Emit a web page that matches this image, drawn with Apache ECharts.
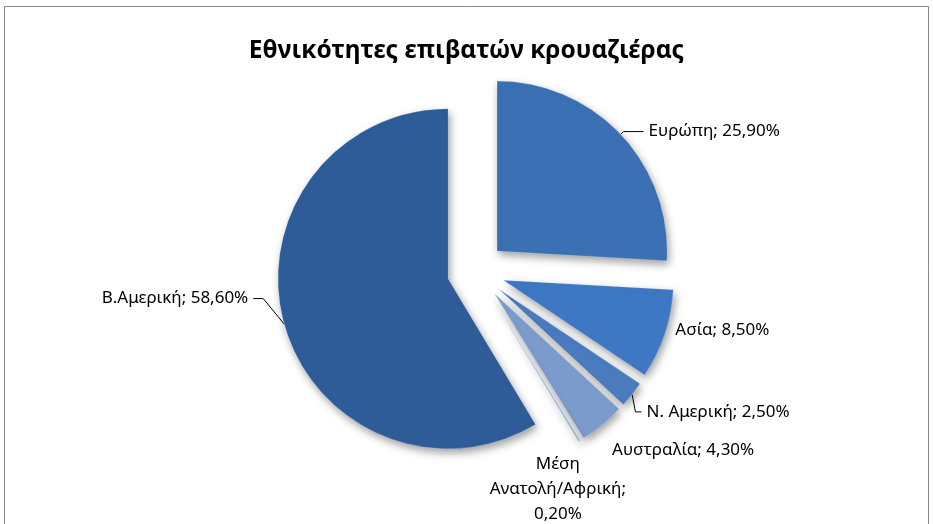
<!DOCTYPE html>
<html>
<head>
<meta charset="utf-8">
<script src="https://cdn.jsdelivr.net/npm/echarts@6/dist/echarts.min.js"></script>
<style>
  html, body { margin: 0; padding: 0; background: #ffffff; }
  #chart { width: 933px; height: 524px; }
</style>
</head>
<body>
<div id="chart"></div>
<script>
// Cruise passenger nationalities (share of passengers, %)
const regions = ['Ευρώπη', 'Ασία', 'Ν. Αμερική', 'Αυστραλία', 'Μέση Ανατολή/Αφρική', 'Β.Αμερική'];
const shares = [25.9, 8.5, 2.5, 4.3, 0.2, 58.6];
const sliceColors = ['#3b70b5', '#3e77c4', '#4b7bbf', '#7b9bcc', '#a3b7da', '#2e5c98'];
const chartTitle = 'Εθνικότητες επιβατών κρουαζιέρας';

// label placement tweaks per slice, relative to the default outside position
const labelStyle = {
  lineLen:  [4, 6, 12, 20, 20, 28],
  lineLen2: [20, 6, 6, 4, 4, 10],
  lineShow: [true, false, true, false, false, true],
  dx:       [0, -6, -6, -12, -41, 6],
  dy:       [0, -6, 10, 10, 31, -33]
};

function pct(v) {
  return v.toFixed(2).replace('.', ',') + '%';
}

function isWrapped(name) {
  return name.length > 15 && name.indexOf(' ') > 0;
}

function labelText(p) {
  // the long two-word region name is wrapped onto three lines
  if (isWrapped(p.name)) {
    return p.name.replace(' ', '\n') + ';\n' + pct(p.value);
  }
  return p.name + '; ' + pct(p.value);
}

const data = regions.map(function (name, i) {
  return {
    name: name,
    value: shares[i],
    selected: true,
    itemStyle: { color: sliceColors[i] },
    labelLine: {
      show: labelStyle.lineShow[i],
      length: labelStyle.lineLen[i],
      length2: labelStyle.lineLen2[i]
    }
  };
});

const chart = echarts.init(document.getElementById('chart'), null, { renderer: 'canvas' });

chart.setOption({
  backgroundColor: '#ffffff',
  animation: false,
  title: {
    text: chartTitle,
    left: 'center',
    top: 34,
    textStyle: {
      fontFamily: 'Noto Sans',
      fontWeight: 'bold',
      fontSize: 24.5,
      color: '#000000'
    }
  },
  graphic: [{
    type: 'rect',
    shape: { x: 4.5, y: 6.5, width: 924, height: 540 },
    style: { fill: 'none', stroke: '#878787', lineWidth: 1 },
    silent: true
  }],
  series: [{
    type: 'pie',
    center: [476, 271],
    radius: [0, 170],
    startAngle: 90,
    clockwise: true,
    selectedMode: 'multiple',
    selectedOffset: 29,
    avoidLabelOverlap: false,
    emphasis: { disabled: true },
    itemStyle: {
      borderColor: 'rgba(255,255,255,0.15)',
      borderWidth: 1,
      shadowBlur: 9,
      shadowOffsetX: 2,
      shadowOffsetY: 4,
      shadowColor: 'rgba(0,0,0,0.38)'
    },
    label: {
      show: true,
      position: 'outside',
      fontFamily: 'Noto Sans',
      fontSize: 17,
      color: '#000000',
      lineHeight: 25,
      formatter: labelText
    },
    labelLine: {
      lineStyle: { color: '#000000', width: 1 }
    },
    labelLayout: function (params) {
      const i = params.dataIndex;
      const dx = labelStyle.dx[i];
      const dy = labelStyle.dy[i];
      const out = { dx: dx, dy: dy, hideOverlap: false };
      // keep the leader line attached: shift its bend and end with the label
      const pts = params.labelLinePoints;
      if (pts && pts.length === 3) {
        out.labelLinePoints = [
          [pts[0][0], pts[0][1]],
          [pts[1][0] + dx, pts[1][1] + dy],
          [pts[2][0] + dx, pts[2][1] + dy]
        ];
      }
      if (isWrapped(regions[i])) {
        out.align = 'center';
      }
      return out;
    },
    data: data
  }]
});
</script>
</body>
</html>
